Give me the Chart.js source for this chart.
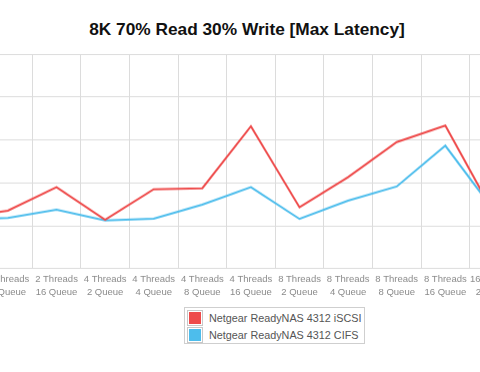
<!DOCTYPE html>
<html>
<head>
<meta charset="utf-8">
<script src="https://cdn.jsdelivr.net/npm/chart.js@4.4.1/dist/chart.umd.min.js"></script>
<style>
  html, body { margin: 0; padding: 0; background: #fff; }
  #stage { position: relative; width: 480px; height: 372px; overflow: hidden; background: #fff; }
  #title { position: absolute; left: 7px; width: 480px; top: 19px; text-align: center;
           font: bold 17.3px "Liberation Sans", Arial, sans-serif; color: #111; white-space: nowrap; }
  #wrap { position: absolute; left: -70px; top: 40px; width: 650px; height: 260px; }
  #legend { position: absolute; left: 184px; top: 307px; width: 181px; height: 37px;
            border: 1px solid #cfcfcf; box-sizing: border-box; padding-top: 1px;
            font: 10.8px "Liberation Sans", Arial, sans-serif; color: #555; white-space: nowrap; }
  .row { display: flex; align-items: center; height: 17px; padding-left: 2px; }
  .sw { width: 12px; height: 12px; border: 1px solid #c8c8c8; padding: 1px; margin-right: 6px; flex: none; }
  .sw div { width: 100%; height: 100%; }
</style>
</head>
<body>
<div id="stage">
  <div id="title">8K 70% Read 30% Write [Max Latency]</div>
  <div id="wrap"><canvas id="c"></canvas></div>
  <div id="legend"></div>
</div>
<script>
// ---- data ----
const categories = [
  "2 Threads 4 Queue", "2 Threads 8 Queue", "2 Threads 16 Queue",
  "4 Threads 2 Queue", "4 Threads 4 Queue", "4 Threads 8 Queue", "4 Threads 16 Queue",
  "8 Threads 2 Queue", "8 Threads 4 Queue", "8 Threads 8 Queue", "8 Threads 16 Queue",
  "16 Threads 2 Queue"
];
const seriesNames = ["Netgear ReadyNAS 4312 iSCSI", "Netgear ReadyNAS 4312 CIFS"];
const iscsiValues = [59.6, 67.8, 95.0, 57.2, 92.6, 93.8, 165.9, 71.6, 106.7, 147.5, 166.7, 64.3];
const cifsValues  = [57.2, 59.2, 68.9, 56.4, 58.4, 74.8, 95.0, 58.1, 79.4, 95.8, 143.3, 67.8];
const yTicks = [0, 50, 100, 150, 200, 250];
const colors = ["#ee4b4b", "#4dbdec"];

const datasets = [iscsiValues, cifsValues].map((vals, i) => ({
  label: seriesNames[i],
  data: vals,
  borderColor: colors[i],
  backgroundColor: colors[i],
  borderWidth: 2,
  pointRadius: 0,
  tension: 0,
  fill: false
}));

// HTML legend
const leg = document.getElementById('legend');
datasets.forEach(ds => {
  const r = document.createElement('div'); r.className = 'row';
  const sw = document.createElement('div'); sw.className = 'sw';
  const inner = document.createElement('div'); inner.style.background = ds.backgroundColor;
  sw.appendChild(inner);
  const t = document.createElement('span'); t.textContent = ds.label;
  r.appendChild(sw); r.appendChild(t); leg.appendChild(r);
});

const chart = new Chart(document.getElementById('c'), {
  type: 'line',
  data: { labels: categories.map(c => { const p = c.split(' '); return [p[0] + ' ' + p[1], p[2] + ' ' + p[3]]; }), datasets },
  options: {
    responsive: true,
    maintainAspectRatio: false,
    animation: false,
    layout: { padding: 0 },
    plugins: { legend: { display: false }, title: { display: false }, tooltip: { enabled: false } },
    scales: {
      x: {
        offset: true,
        grid: { offset: true, color: '#dcdcdc', lineWidth: 1, drawTicks: false },
        border: { color: '#dcdcdc' },
        ticks: { color: '#8a8a8a', font: { family: 'Liberation Sans', size: 9.5, lineHeight: 1.35 }, padding: 4, maxRotation: 0, autoSkip: false }
      },
      y: {
        min: yTicks[0], max: yTicks[yTicks.length - 1],
        afterBuildTicks: s => { s.ticks = yTicks.map(v => ({ value: v })); },
        grid: { color: '#dcdcdc', lineWidth: 1, drawTicks: false },
        border: { display: false },
        ticks: { display: false }
      }
    }
  }
});

// place the chart area so the visible window matches the reference crop
(function fit() {
  const wrap = document.getElementById('wrap');
  const wantLeft = -64.9, wantTop = 54, wantW = 583.2, wantH = 214;
  for (let k = 0; k < 3; k++) {
    const a = chart.chartArea;
    const W = chart.width, H = chart.height;
    const newW = wantW + a.left + (W - a.right);
    const newH = wantH + a.top + (H - a.bottom);
    wrap.style.width = newW + 'px';
    wrap.style.height = newH + 'px';
    chart.resize(newW, newH);
  }
  const a = chart.chartArea;
  wrap.style.left = (wantLeft - a.left) + 'px';
  wrap.style.top = (wantTop - a.top) + 'px';
})();
</script>
</body>
</html>
